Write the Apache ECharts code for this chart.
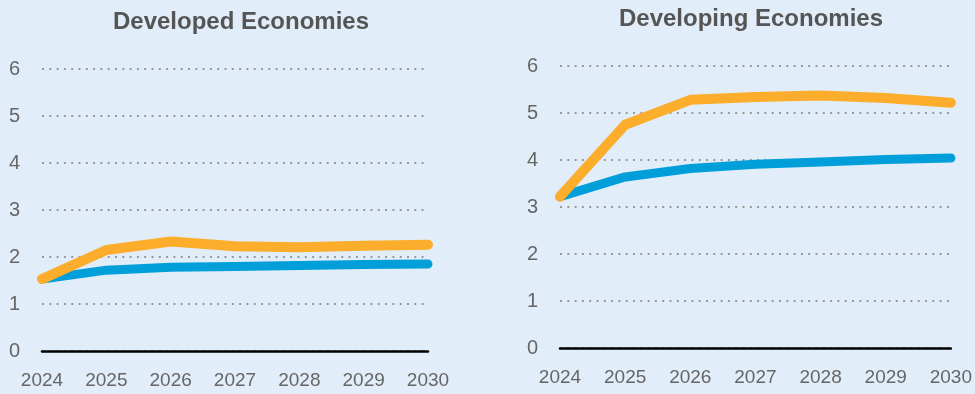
<!DOCTYPE html>
<html>
<head>
<meta charset="utf-8">
<script src="https://cdn.jsdelivr.net/npm/echarts@6/dist/echarts.min.js"></script>
<style>
  html, body { margin: 0; padding: 0; background: #e1edf8; }
  #chart { width: 975px; height: 394px; }
</style>
</head>
<body>
<div id="chart"></div>
<script>
var years = ['2024', '2025', '2026', '2027', '2028', '2029', '2030'];
var yTicks = [0, 1, 2, 3, 4, 5, 6];

// Developed economies
var devdOrange = [1.53, 2.15, 2.33, 2.23, 2.21, 2.24, 2.26];
var devdBlue = [1.53, 1.72, 1.78, 1.80, 1.82, 1.84, 1.85];

// Developing economies
var devgOrange = [3.22, 4.75, 5.28, 5.34, 5.37, 5.32, 5.22];
var devgBlue = [3.22, 3.64, 3.82, 3.91, 3.96, 4.01, 4.04];

var ORANGE = '#fbad2b';
var BLUE = '#009fda';
var FONT = '"Liberation Sans", Arial, sans-serif';

var chart = echarts.init(document.getElementById('chart'));

function xAx(idx) {
    return {
        type: 'category',
        gridIndex: idx,
        data: years,
        boundaryGap: false,
        axisTick: { show: false },
        axisLine: { show: true, lineStyle: { color: '#000', width: 2.5 } },
        axisLabel: { color: '#666', fontSize: 19, fontFamily: FONT, margin: 20 },
        splitLine: { show: false }
    }
}
function yAx(idx) {
    return {
        type: 'value',
        gridIndex: idx,
        min: 0, max: 6, interval: 1,
        axisLine: { show: false },
        axisTick: { show: false },
        axisLabel: { color: '#666', fontSize: 20, fontFamily: FONT, margin: 22,
            formatter: function (v) { return yTicks.indexOf(v) >= 0 ? String(v) : ''; } },
        splitLine: { show: true, lineStyle: { color: '#999', width: 2, type: [2, 5.3] } }
    }
}
function line(vals, color, idx, w, z) {
    return {
        type: 'line',
        xAxisIndex: idx, yAxisIndex: idx,
        data: vals,
        symbol: 'none',
        z: z,
        lineStyle: { color: color, width: w, cap: 'round', join: 'round' }
    }
}

chart.setOption({
    backgroundColor: '#e1edf8',
    animation: false,
    title: [
        { text: 'Developed Economies', left: 236, top: 5, textAlign: 'center',
          textStyle: { color: '#555', fontSize: 24, fontWeight: 'bold', fontFamily: FONT } },
        { text: 'Developing Economies', left: 746, top: 2, textAlign: 'center',
          textStyle: { color: '#555', fontSize: 24, fontWeight: 'bold', fontFamily: FONT } }
    ],
    grid: [
        { left: 42, right: 547, top: 69, bottom: 43 },
        { left: 560, right: 24, top: 66, bottom: 46 }
    ],
    xAxis: [xAx(0), xAx(1)],
    yAxis: [yAx(0), yAx(1)],
    series: [
        line(devdBlue, BLUE, 0, 9, 2),
        line(devdOrange, ORANGE, 0, 10, 3),
        line(devgBlue, BLUE, 1, 9, 2),
        line(devgOrange, ORANGE, 1, 10, 3)
    ]
});
</script>
</body>
</html>
